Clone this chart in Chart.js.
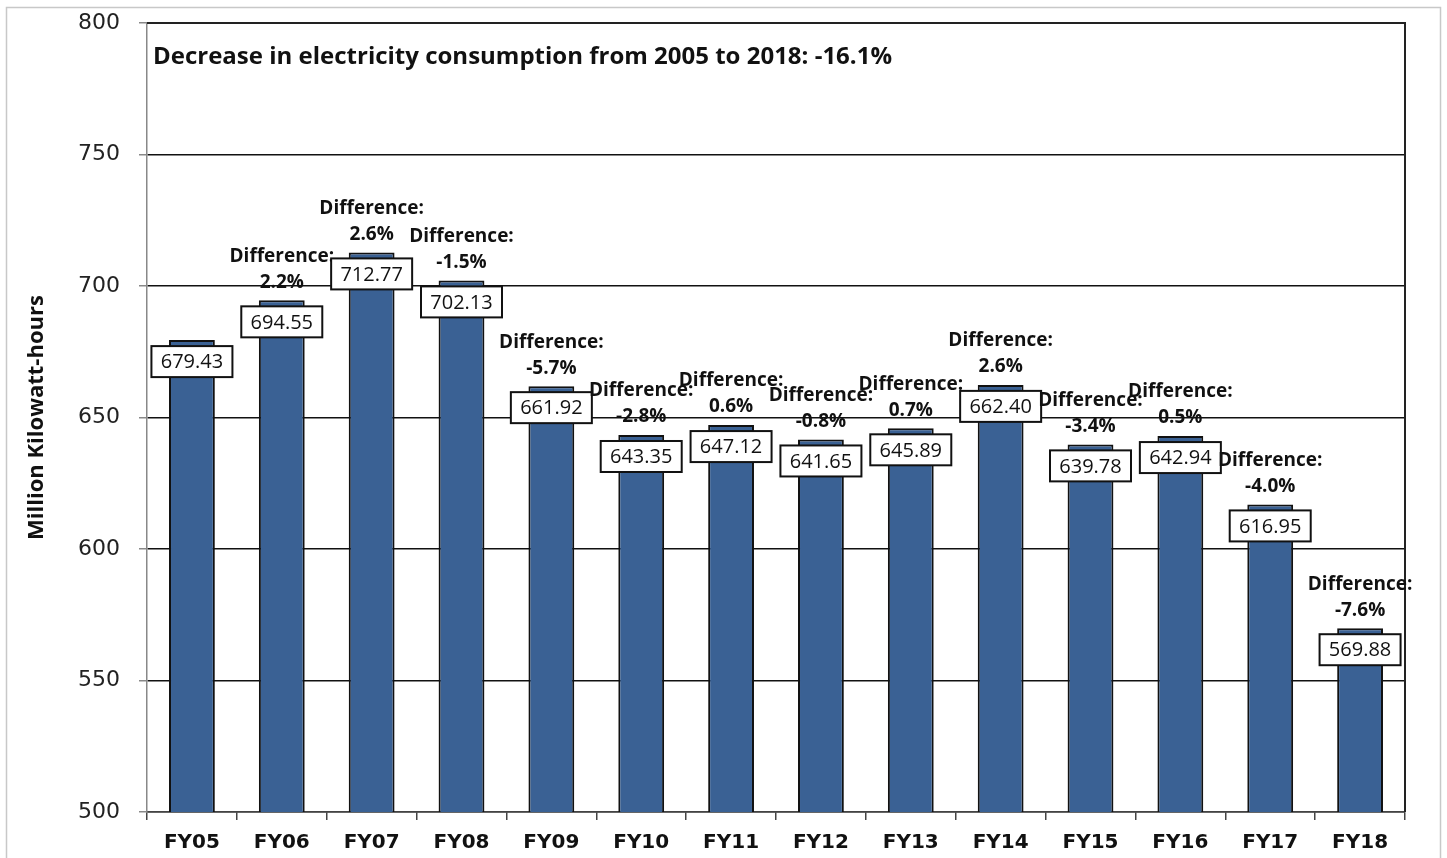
<!DOCTYPE html>
<html>
<head>
<meta charset="utf-8">
<title>Electricity consumption FY05–FY18</title>
<script src="https://cdn.jsdelivr.net/npm/chart.js@4.4.1/dist/chart.umd.min.js"></script>
<style>
  html, body { margin: 0; padding: 0; background: #ffffff; }
  canvas { display: block; }
</style>
</head>
<body>
<canvas id="chart" width="1447" height="858"></canvas>
<script>
// Fiscal years on the category axis
const fiscalYears = ['FY05', 'FY06', 'FY07', 'FY08', 'FY09', 'FY10', 'FY11', 'FY12', 'FY13', 'FY14', 'FY15', 'FY16', 'FY17', 'FY18'];

// Annual electricity consumption, million kWh
const consumption = [679.43, 694.55, 712.77, 702.13, 661.92, 643.35, 647.12, 641.65, 645.89, 662.40, 639.78, 642.94, 616.95, 569.88];

// Year-over-year change, percent (no prior year for FY05)
const yearOverYear = [null, 2.2, 2.6, -1.5, -5.7, -2.8, 0.6, -0.8, 0.7, 2.6, -3.4, 0.5, -4.0, -7.6];

// Value-axis ticks
const axisTicks = [500, 550, 600, 650, 700, 750, 800];

const headline = 'Decrease in electricity consumption from 2005 to 2018: -16.1%';
const axisTitle = 'Million Kilowatt-hours';

const BAR_FILL = '#3a6194';
const INK = '#111111';

// Frame, headline, value boxes and difference notes
const annotations = {
  id: 'annotations',
  beforeDraw(chart) {
    const ctx = chart.ctx;
    ctx.save();
    ctx.fillStyle = '#ffffff';
    ctx.fillRect(0, 0, chart.width, chart.height);
    ctx.strokeStyle = '#c8c8c8';
    ctx.lineWidth = 1.5;
    ctx.strokeRect(6.5, 7.5, chart.width - 13, chart.height + 20);
    ctx.restore();
  },
  afterDatasetsDraw(chart) {
    const ctx = chart.ctx;
    const area = chart.chartArea;
    const meta = chart.getDatasetMeta(0);
    ctx.save();

    // top and right edges of the plot box
    ctx.strokeStyle = '#222';
    ctx.lineWidth = 2;
    ctx.beginPath();
    ctx.moveTo(area.left, area.top);
    ctx.lineTo(area.right, area.top);
    ctx.lineTo(area.right, area.bottom);
    ctx.stroke();

    // headline inside the plot
    ctx.fillStyle = INK;
    ctx.font = 'bold 24px "Open Sans"';
    ctx.textAlign = 'left';
    ctx.textBaseline = 'middle';
    ctx.fillText(headline, area.left + 6, area.top + 34);

    meta.data.forEach((bar, i) => {
      const x = bar.x;
      const top = bar.y;

      // boxed value label overlapping the top of the bar
      const boxW = 81, boxH = 31;
      const boxTop = top + 6;
      ctx.fillStyle = '#ffffff';
      ctx.fillRect(x - boxW / 2, boxTop, boxW, boxH);
      ctx.strokeStyle = INK;
      ctx.lineWidth = 2;
      ctx.strokeRect(x - boxW / 2, boxTop, boxW, boxH);
      ctx.fillStyle = INK;
      ctx.font = '20px "Open Sans"';
      ctx.textAlign = 'center';
      ctx.textBaseline = 'middle';
      ctx.fillText(consumption[i].toFixed(2), x, boxTop + boxH / 2 + 1);

      // difference note above the bar
      const change = yearOverYear[i];
      if (change !== null) {
        ctx.font = 'bold 19px "Open Sans"';
        ctx.fillText(change.toFixed(1) + '%', x, top - 18);
        ctx.fillText('Difference:', x, top - 44);
      }
    });
    ctx.restore();
  }
};

new Chart(document.getElementById('chart'), {
  type: 'bar',
  data: {
    labels: fiscalYears,
    datasets: [{
      data: consumption,
      backgroundColor: BAR_FILL,
      borderColor: INK,
      borderWidth: 2,
      borderSkipped: false,
      barPercentage: 0.51,
      categoryPercentage: 1.0
    }]
  },
  options: {
    responsive: false,
    animation: false,
    devicePixelRatio: 1,
    layout: { padding: { top: 23, right: 42, left: 0, bottom: 0 } },
    plugins: {
      legend: { display: false },
      tooltip: { enabled: false }
    },
    scales: {
      x: {
        grid: {
          display: true,
          offset: true,
          drawOnChartArea: false,
          drawTicks: true,
          tickLength: 8,
          tickColor: '#444',
          lineWidth: 1.5
        },
        border: { display: true, color: '#444', width: 1.5 },
        ticks: {
          color: INK,
          padding: 11,
          font: { family: '"DejaVu Sans"', weight: 'bold', size: 20 }
        },
        afterFit(scale) {
          scale.height = 46;
          scale.paddingLeft = 0;
          scale.paddingRight = 0;
        }
      },
      y: {
        min: 500,
        max: 800,
        afterBuildTicks(scale) {
          scale.ticks = axisTicks.map(v => ({ value: v }));
        },
        grid: {
          color: '#111',
          lineWidth: 1.5,
          tickLength: 8,
          tickColor: '#888'
        },
        border: { display: true, color: '#888', width: 1.5 },
        ticks: {
          color: '#222',
          padding: 19,
          font: { family: '"DejaVu Sans"', size: 22 }
        },
        title: {
          display: true,
          text: axisTitle,
          color: INK,
          padding: { top: 24, bottom: 0 },
          font: { family: '"Open Sans"', weight: 'bold', size: 22 }
        },
        afterFit(scale) {
          scale.width = 147;
          scale.paddingTop = 0;
          scale.paddingBottom = 0;
        }
      }
    }
  },
  plugins: [annotations]
});
</script>
</body>
</html>
